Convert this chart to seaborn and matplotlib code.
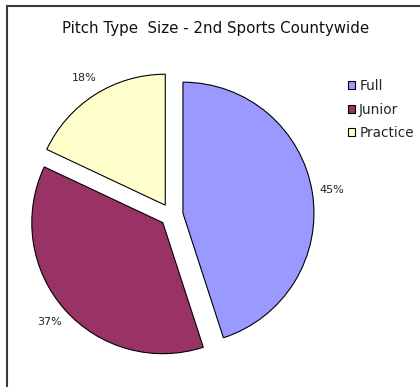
import matplotlib
matplotlib.use("Agg")
import matplotlib.pyplot as plt
import matplotlib.patches as mpatches
import seaborn as sns

sns.set_style("white")
plt.rcParams['font.family'] = ['DejaVu Sans']

categories = ["Full", "Junior", "Practice"]
values = [45, 37, 18]
colors = ["#9999FF", "#993366", "#FFFFCC"]
title = "Pitch Type  Size - 2nd Sports Countywide"

W, H = 420, 387
fig = plt.figure(figsize=(W / 100, H / 100), dpi=100)
fig.patch.set_facecolor("white")
ax = fig.add_axes([0, 0, 1, 1])

R = 131
cx, cy = 171.5, H - 215
wedges, texts, autotexts = ax.pie(
    values,
    colors=colors,
    explode=[11.6] * len(values),
    startangle=90,
    counterclock=False,
    radius=R,
    center=(cx, cy),
    autopct="%1.0f%%",
    pctdistance=1.15,
    wedgeprops=dict(edgecolor="black", linewidth=0.8),
    textprops=dict(fontsize=8, color="#222222"),
    frame=True,
)
ax.set_xlim(0, W)
ax.set_ylim(0, H)
ax.set_aspect("equal")
ax.axis("off")

# outer chart-area border
border = mpatches.Rectangle((7, -20), W + 40, H - 5.5 + 20, fill=False,
                            edgecolor="#3a3a3a", linewidth=1.5, zorder=0)
ax.add_patch(border)

ax.text(216, H - 28, title, ha="center", va="center", fontsize=10.8, color="#111111")

handles = [mpatches.Patch(facecolor=c, edgecolor="black", linewidth=0.8) for c in colors]
ax.legend(handles, categories, loc="upper left", bbox_to_anchor=(348 / W, 1 - 79 / H),
          frameon=False, fontsize=9.8, handlelength=0.52, handleheight=0.57,
          handletextpad=0.3, labelspacing=0.7, borderpad=0, borderaxespad=0)

fig.savefig("out.png", dpi=100, facecolor="white")
